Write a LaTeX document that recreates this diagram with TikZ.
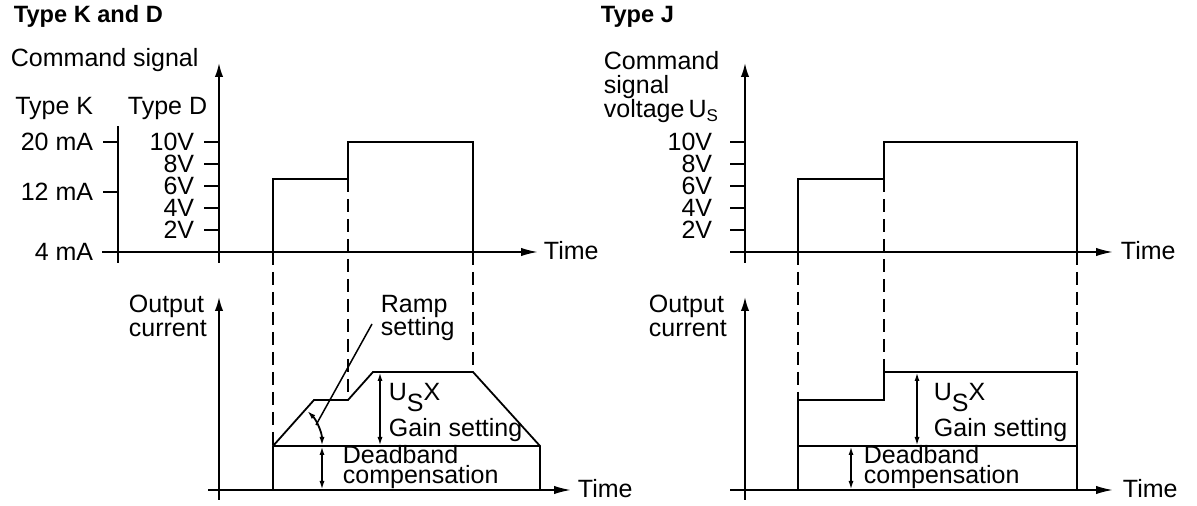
\documentclass[tikz,border=0pt]{standalone}
\usepackage{fontspec}
\setmainfont{Liberation Sans}
\usetikzlibrary{arrows.meta}
\begin{document}
\begin{tikzpicture}[x=0.5pt,y=-0.5pt,
  line width=0.9pt,
  txt/.style={inner sep=0pt,font=\fontsize{12.5}{12.5}\selectfont},
  ttl/.style={inner sep=0pt,font=\fontsize{11.8}{12}\selectfont\bfseries},
  haxis/.style={-{Latex[length=8.5pt,width=4.2pt]}},
  vaxis/.style={-{Latex[length=7pt,width=4.2pt]}},
  dimarrow/.style={{Latex[length=4.5pt,width=2.5pt]}-{Latex[length=4.5pt,width=2.5pt]}},
  dashline/.style={dash pattern=on 6.5pt off 3.5pt},
]
\useasboundingbox (0,0) rectangle (1197,506);

% ---------------- Titles ----------------
\node[ttl,anchor=base west] (t1) at (13,23) {Type K and D};
\node[ttl,anchor=base west] (t2) at (600,23) {Type J};

% ================= LEFT PANEL =================
\coordinate (LyB) at (219,263);
\coordinate (LyT) at (219,63);
\coordinate (LxL) at (102,252);
\coordinate (LxR) at (538,252);
\draw[vaxis] (LyB) -- (LyT);
\draw[haxis] (LxL) -- (LxR);
\coordinate (LkB) at (118,263);
\coordinate (LkT) at (118,126);
\draw (LkB) -- (LkT);
\node[txt,anchor=base west] (Ltime) at (543,260) {Time};

\node[txt,anchor=base west] (Lcmd) at (10,67) {Command signal};
\node[txt,anchor=base east] (LtK) at (94,115) {Type K};
\node[txt,anchor=base east] (LtD) at (208,115) {Type D};

\foreach \y/\l in {142/20 mA,192/12 mA}{
  \draw (103,\y) -- (118,\y);
  \node[txt,anchor=east] at (94,\y) {\l};
}
\node[txt,anchor=east] (L4mA) at (94,252) {4 mA};
\foreach \y/\l in {142/10V,164/8V,186/6V,208/4V,230/2V}{
  \draw (204,\y) -- (219,\y);
  \node[txt,anchor=east] at (195,\y) {\l};
}

\draw (273,252) -- (273,179) -- (348,179) -- (348,142) -- (473,142) -- (473,252);

\draw[dashline] (273,252) -- (273,446);
\draw[dashline] (348,179) -- (348,400);
\draw[dashline] (473,252) -- (473,372);

\coordinate (LbyB) at (219,500);
\coordinate (LbyT) at (219,297);
\coordinate (LbxL) at (208,490);
\coordinate (LbxR) at (571,490);
\draw[vaxis] (LbyB) -- (LbyT);
\draw[haxis] (LbxL) -- (LbxR);
\node[txt,anchor=base west] (Lbtime) at (577,498) {Time};
\node[txt,anchor=base west] (Lout1) at (128,313) {Output};
\node[txt,anchor=base west] (Lout2) at (128,337) {current};

\coordinate (Lr0) at (273,446);
\draw (273,490) -- (Lr0) -- (314,400) -- (348,400) -- (373,372) -- (473,372) -- (540,446) -- (540,490);
\draw (Lr0) -- (540,446);

\draw[dimarrow] (380,372) -- (380,446);
\draw[dimarrow] (322,446) -- (322,490);
\node[txt,anchor=base west] (Lus) at (388,401) {U\raisebox{-5.5pt}{S}X};
\node[txt,anchor=base west] (Lgain) at (388,437) {Gain setting};
\node[txt,anchor=base west] (Ldb1) at (342,464) {Deadband};
\node[txt,anchor=base west] (Ldb2) at (342,484) {compensation};

\draw[dimarrow] (Lr0) ++(0:49) arc[start angle=0,end angle=-46,radius=49];
\node[txt,anchor=base west] (Lramp1) at (380,313) {Ramp};
\node[txt,anchor=base west] (Lramp2) at (380,336) {setting};
\coordinate (Lleadtop) at (372,324);
\coordinate (Lleadend) at (316,425);
\draw[line width=0.75pt] (Lleadtop) -- (Lleadend);

% ================= RIGHT PANEL =================
\coordinate (RyB) at (745,263);
\coordinate (RyT) at (745,63);
\coordinate (RxL) at (730,252);
\coordinate (RxR) at (1113,252);
\draw[vaxis] (RyB) -- (RyT);
\draw[haxis] (RxL) -- (RxR);
\node[txt,anchor=base west] (Rtime) at (1120,260) {Time};

\node[txt,anchor=base west] (Rc1) at (603,70) {Command};
\node[txt,anchor=base west] (Rc2) at (603,94) {signal};
\node[txt,anchor=base west] (Rc3) at (603,118) {voltage\,U\raisebox{-2pt}{\fontsize{8.5}{9}\selectfont S}};

\foreach \y/\l in {142/10V,164/8V,186/6V,208/4V,230/2V}{
  \draw (730,\y) -- (745,\y);
  \node[txt,anchor=east] at (713,\y) {\l};
}

\draw (798,252) -- (798,179) -- (884,179) -- (884,142) -- (1077,142) -- (1077,252);

\draw[dashline] (798,252) -- (798,400);
\draw[dashline] (884,179) -- (884,372);
\draw[dashline] (1077,252) -- (1077,372);

\coordinate (RbyB) at (745,500);
\coordinate (RbyT) at (745,297);
\coordinate (RbxL) at (730,490);
\coordinate (RbxR) at (1113,490);
\draw[vaxis] (RbyB) -- (RbyT);
\draw[haxis] (RbxL) -- (RbxR);
\node[txt,anchor=base west] (Rbtime) at (1122,498) {Time};
\node[txt,anchor=base west] (Rout1) at (648,313) {Output};
\node[txt,anchor=base west] (Rout2) at (648,337) {current};

\draw (798,490) -- (798,400) -- (884,400) -- (884,372) -- (1077,372) -- (1077,490);
\draw (798,446) -- (1077,446);

\draw[dimarrow] (917,372) -- (917,446);
\draw[dimarrow] (851,446) -- (851,490);
\node[txt,anchor=base west] (Rus) at (933,401) {U\raisebox{-5.5pt}{S}X};
\node[txt,anchor=base west] (Rgain) at (933,437) {Gain setting};
\node[txt,anchor=base west] (Rdb1) at (863,464) {Deadband};
\node[txt,anchor=base west] (Rdb2) at (863,484) {compensation};

\end{tikzpicture}
\end{document}
